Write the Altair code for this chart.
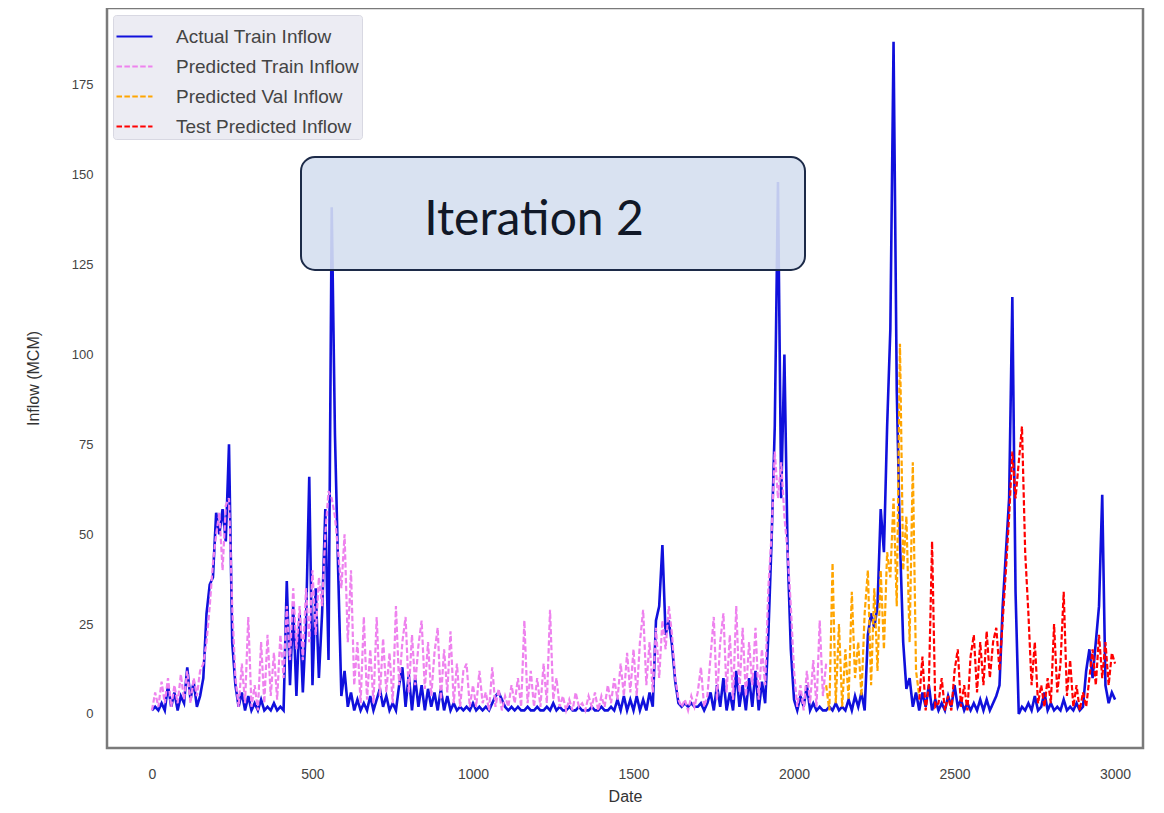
import altair as alt
import pandas as pd

STEP = 10

# Actual train inflow, t = 0..3000 every 10 days
actual = [
    1, 2, 1, 3, 1, 8, 2, 6, 1, 5,
    3, 13, 4, 9, 2, 5, 10, 28, 36, 38,
    56, 50, 57, 48, 75, 20, 8, 2, 6, 1,
    5, 1, 3, 1, 4, 1, 2, 1, 3, 1,
    2, 1, 37, 8, 30, 5, 28, 6, 25, 66,
    8, 35, 10, 28, 57, 15, 141, 78, 40, 5,
    12, 2, 6, 1, 4, 1, 3, 1, 5, 1,
    4, 7, 2, 5, 1, 3, 1, 8, 13, 2,
    11, 1, 10, 2, 8, 1, 7, 2, 6, 1,
    7, 1, 5, 1, 3, 1, 2, 1, 2, 1,
    3, 1, 2, 1, 2, 1, 3, 5, 6, 4,
    2, 1, 2, 1, 2, 1, 1, 2, 1, 1,
    2, 1, 1, 2, 1, 3, 1, 2, 1, 1,
    2, 1, 1, 2, 1, 1, 1, 2, 1, 1,
    2, 1, 1, 2, 1, 4, 1, 5, 1, 4,
    1, 5, 1, 4, 1, 6, 2, 26, 30, 47,
    22, 26, 19, 9, 3, 2, 3, 2, 3, 2,
    2, 3, 1, 3, 6, 1, 8, 2, 10, 1,
    6, 1, 12, 2, 8, 1, 10, 2, 12, 1,
    9, 3, 22, 48, 80, 148, 60, 100, 45, 18,
    4, 1, 5, 2, 8, 1, 3, 1, 2, 1,
    1, 2, 1, 3, 1, 2, 1, 4, 1, 5,
    2, 6, 1, 22, 28, 24, 30, 57, 45, 80,
    107, 187, 90, 48, 20, 7, 10, 2, 6, 1,
    6, 2, 8, 1, 4, 1, 3, 1, 5, 2,
    8, 2, 4, 1, 3, 1, 3, 1, 4, 1,
    4, 1, 3, 5, 8, 30, 45, 60, 116, 34,
    0, 2, 1, 3, 1, 5, 1, 2, 6, 1,
    3, 1, 2, 1, 4, 1, 2, 1, 3, 1,
    2, 12, 18, 10, 20, 30, 61, 8, 3, 6,
    4,
]
actual_start = 0

# Predicted train inflow, t = 0..2100
pred_train = [
    1, 6, 2, 9, 3, 10, 2, 8, 3, 11,
    4, 12, 3, 10, 5, 12, 14, 20, 30, 42,
    50, 56, 40, 58, 60, 30, 10, 2, 14, 3,
    27, 2, 8, 1, 20, 3, 22, 5, 17, 4,
    22, 10, 30, 15, 35, 18, 30, 15, 35, 20,
    40, 22, 38, 30, 50, 62, 60, 55, 45, 35,
    50, 20, 40, 8, 20, 3, 27, 4, 18, 3,
    27, 5, 21, 6, 17, 3, 30, 8, 20, 27,
    6, 22, 8, 19, 26, 7, 20, 5, 17, 24,
    4, 18, 6, 23, 3, 14, 2, 12, 14, 2,
    8, 2, 12, 3, 6, 1, 13, 2, 7, 1,
    5, 2, 8, 3, 10, 2, 26, 3, 12, 2,
    10, 2, 14, 3, 29, 4, 10, 2, 5, 1,
    4, 1, 6, 2, 3, 1, 5, 2, 6, 1,
    5, 2, 8, 3, 10, 4, 14, 5, 17, 6,
    18, 5, 20, 29, 8, 20, 6, 24, 10, 26,
    18, 30, 22, 10, 4, 2, 4, 1, 5, 2,
    6, 13, 2, 5, 16, 27, 4, 20, 28, 6,
    22, 4, 30, 6, 24, 5, 20, 8, 24, 4,
    18, 8, 35, 50, 73, 60, 70, 55, 45, 30,
    12, 2, 8, 1, 12, 3, 15, 2, 26, 5,
    14,
]
pred_train_start = 0

# Predicted validation inflow, t = 2100..2390
pred_val = [
    8, 1, 42, 3, 25, 2, 18, 4, 34, 10,
    20, 5, 28, 40, 8, 35, 12, 40, 18, 45,
    38, 60, 30, 103, 40, 55, 20, 70, 12, 5,
]
pred_val_start = 2100

# Test predicted inflow, t = 2390..3000
pred_test = [
    4, 16, 1, 8, 48, 2, 3, 10, 1, 5,
    1, 12, 18, 2, 8, 1, 16, 22, 6, 20,
    8, 23, 10, 20, 24, 12, 26, 40, 55, 73,
    60, 70, 80, 45, 28, 8, 20, 3, 8, 2,
    10, 3, 25, 6, 14, 34, 5, 15, 2, 8,
    1, 6, 2, 10, 18, 8, 22, 10, 20, 8,
    17, 14,
]
pred_test_start = 2390

series_names = ["Actual Train Inflow", "Predicted Train Inflow",
                "Predicted Val Inflow", "Test Predicted Inflow"]
series_colors = ["#1010dc", "violet", "orange", "red"]
series_dashes = [[1, 0], [5.5, 2.4], [5.5, 2.4], [5.5, 2.4]]
x_ticks = [0, 500, 1000, 1500, 2000, 2500, 3000]
y_ticks = [0, 25, 50, 75, 100, 125, 150, 175]

rows = []
for name, vals, start in zip(series_names,
                             [actual, pred_train, pred_val, pred_test],
                             [actual_start, pred_train_start, pred_val_start, pred_test_start]):
    for i, v in enumerate(vals):
        rows.append({"series": name, "t": start + STEP * i, "v": v})
df = pd.DataFrame(rows)

FONT = "Liberation Sans"

color_scale = alt.Scale(domain=series_names, range=series_colors)
dash_scale = alt.Scale(domain=series_names, range=series_dashes)

x_enc = alt.X("t:Q", title="Date",
              scale=alt.Scale(domain=[-140, 3087], nice=False, zero=False),
              axis=alt.Axis(values=x_ticks, format="d", grid=False, ticks=False, domain=False,
                            labelPadding=19, labelFontSize=14, labelColor="#444",
                            labelFont=FONT, titleFont=FONT, titleFontSize=16,
                            titleColor="#333", titleFontWeight="normal", titlePadding=7))
y_enc = alt.Y("v:Q", title="Inflow (MCM)",
              scale=alt.Scale(domain=[-9.46, 196.4], nice=False, zero=False),
              axis=alt.Axis(values=y_ticks, grid=False, ticks=False, domain=False,
                            labelPadding=14, labelFontSize=13, labelColor="#444",
                            labelFont=FONT, titleFont=FONT, titleFontSize=16,
                            titleColor="#333", titleFontWeight="normal", titlePadding=30))

legend = alt.Legend(title=None, orient="none", legendX=6, legendY=7,
                    fillColor="#ececf3", strokeColor="#d8d8e2", cornerRadius=3,
                    padding=2, symbolType="stroke", symbolSize=1296, symbolStrokeWidth=2.2,
                    labelFontSize=19, labelColor="#444", labelFont=FONT, labelLimit=400,
                    rowPadding=0, labelOffset=22)

layers = []
for name, sw in zip(series_names, [2.6, 2.2, 2.2, 2.2]):
    layers.append(
        alt.Chart(df).transform_filter(alt.datum.series == name)
        .mark_line(strokeWidth=sw, clip=True)
        .encode(x=x_enc, y=y_enc,
                color=alt.Color("series:N", scale=color_scale, legend=legend),
                strokeDash=alt.StrokeDash("series:N", scale=dash_scale, legend=legend),
                order="t:Q")
    )

box_df = pd.DataFrame({"label": ["Iteration 2"]})
box = alt.Chart(box_df).mark_rect(
    cornerRadius=14, fill="#d5dff0", fillOpacity=0.9, stroke="#1c2a48", strokeWidth=2
).encode(x=alt.value(194), x2=alt.value(698), y=alt.value(149), y2=alt.value(262))
box_text = alt.Chart(box_df).mark_text(
    fontSize=48, font="Lato", color="#111827", align="center", baseline="alphabetic"
).encode(x=alt.value(427), y=alt.value(227), text="label:N")

chart = alt.layer(*layers, box, box_text).properties(
    width=1036, height=740,
    background="white",
    autosize=alt.AutoSizeParams(type="none"),
    padding={"left": 99, "top": 0, "right": 5, "bottom": 57},
).configure_view(stroke="#7a7a7a", strokeWidth=2.5)

chart.save("out.html", embed_options={"renderer": "svg", "actions": False})
